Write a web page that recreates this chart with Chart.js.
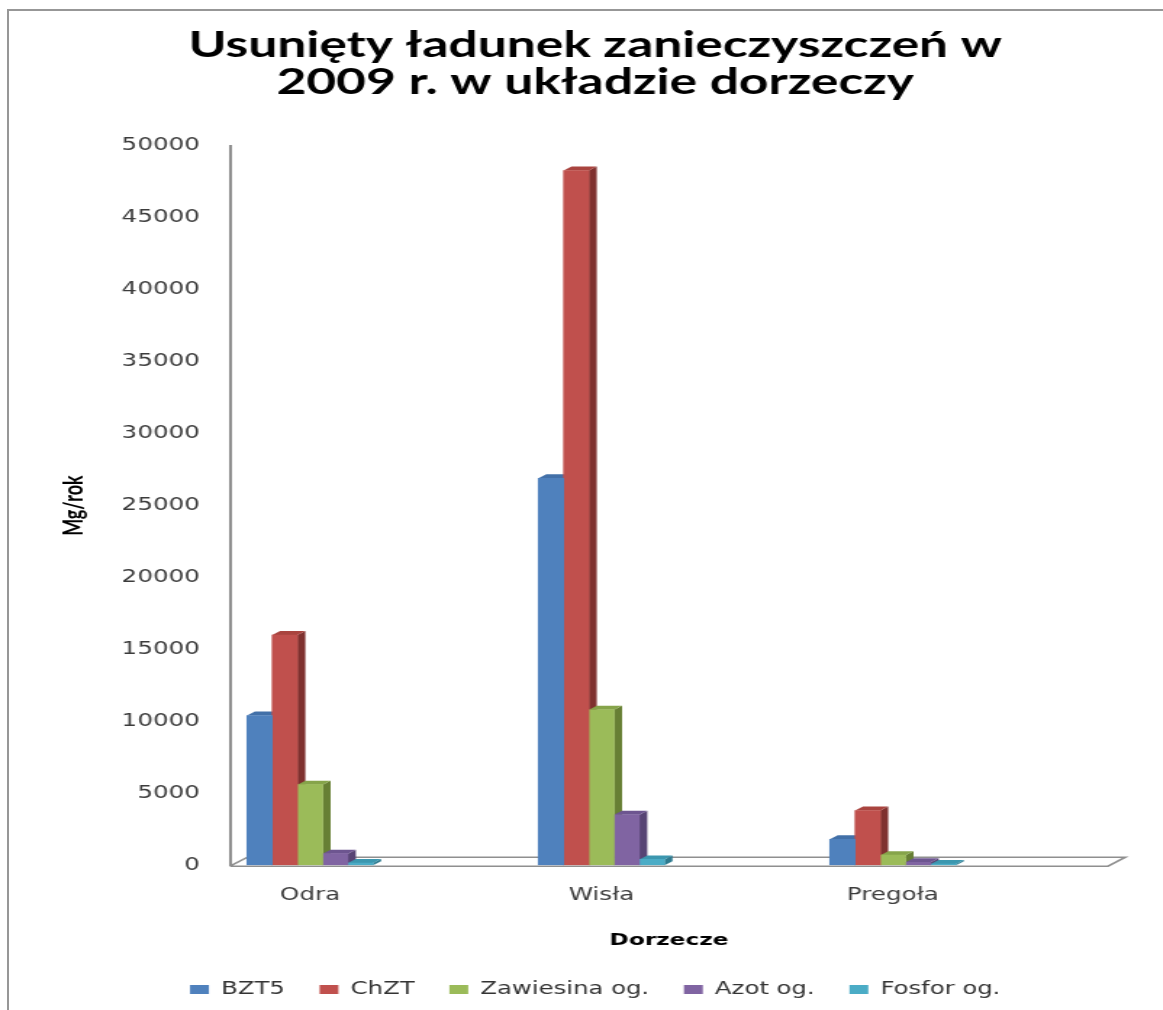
<!DOCTYPE html>
<html><head><meta charset="utf-8">
<script src="https://cdn.jsdelivr.net/npm/chart.js@4.4.1/dist/chart.umd.min.js"></script>
<style>
html,body{margin:0;padding:0;background:#fff;overflow:hidden;width:1163px;height:1010px}
#frame{position:absolute;left:7px;top:9px;width:1200px;height:1100px;border-left:2px solid #979797;border-top:2px solid #979797;}
#wrap{position:absolute;left:0;top:0;width:802px;height:1010px;transform:scaleX(1.45);transform-origin:0 0;}
</style></head><body>
<div id="frame"></div>
<div id="wrap"><canvas id="c" width="802" height="1010"></canvas></div>
<script>
// ---- data ----
const categories = ['Odra', 'Wisła', 'Pregoła'];
const seriesNames = ['BZT5', 'ChZT', 'Zawiesina og.', 'Azot og.', 'Fosfor og.'];
const bzt5 = [10400, 26900, 1800];
const chzt = [16000, 48300, 3800];
const zawiesina = [5600, 10800, 700];
const azot = [800, 3500, 200];
const fosfor = [150, 400, 80];
const yTickValues = [0, 5000, 10000, 15000, 20000, 25000, 30000, 35000, 40000, 45000, 50000];

// ---- styles ----
const frontColors = ['#4F81BD', '#C0504D', '#9BBB59', '#8064A2', '#4BACC6'];
const topColors   = ['#4270A8', '#A9443F', '#86A44A', '#6D5590', '#3C97AF'];
const sideColors  = ['#385D8A', '#7F312F', '#677F34', '#574474', '#2E7A8F'];
const seriesValues = [bzt5, chzt, zawiesina, azot, fosfor];

const datasets = seriesNames.map((name, i) => ({
  label: name,
  data: seriesValues[i].map((v, k) => ({ x: k, y: v })),
  backgroundColor: frontColors[i],
  borderWidth: 0,
  barThickness: 17.4,
  topColor: topColors[i],
  sideColor: sideColors[i]
}));

const DX = 5.5, DY = 4;
const floorAnd3d = {
  id: 'floorAnd3d',
  beforeDatasetsDraw(chart) {
    const ctx = chart.ctx;
    const a = chart.chartArea;
    const fx = 12, fy = 9;
    ctx.save();
    ctx.strokeStyle = '#8f8f8f';
    ctx.lineWidth = 1.6;
    ctx.beginPath();
    ctx.moveTo(a.left, a.bottom + 1);
    ctx.lineTo(a.right, a.bottom + 1);
    ctx.lineTo(a.right + fx, a.bottom + 1 - fy);
    ctx.lineTo(a.left + fx, a.bottom + 1 - fy);
    ctx.lineTo(a.left, a.bottom + 1);
    ctx.stroke();
    // 3D side and top faces
    chart.data.datasets.forEach((ds, i) => {
      const meta = chart.getDatasetMeta(i);
      meta.data.forEach(el => {
        const p = el.getProps(['x', 'y', 'base', 'width'], true);
        const l = p.x - p.width / 2, r = p.x + p.width / 2;
        ctx.fillStyle = ds.sideColor;
        ctx.beginPath();
        ctx.moveTo(r, p.y);
        ctx.lineTo(r + DX, p.y - DY);
        ctx.lineTo(r + DX, p.base - DY);
        ctx.lineTo(r, p.base);
        ctx.closePath();
        ctx.fill();
        ctx.fillStyle = ds.topColor;
        ctx.beginPath();
        ctx.moveTo(l, p.y);
        ctx.lineTo(l + DX, p.y - DY);
        ctx.lineTo(r + DX, p.y - DY);
        ctx.lineTo(r, p.y);
        ctx.closePath();
        ctx.fill();
      });
    });
    ctx.restore();
  }
};

new Chart(document.getElementById('c'), {
  type: 'bar',
  data: { datasets },
  plugins: [floorAnd3d],
  options: {
    responsive: false,
    animation: false,
    devicePixelRatio: 1,
    layout: { padding: { left: 19, right: 0, top: 0, bottom: 2 } },
    plugins: {
      title: {
        display: true,
        text: ['Usunięty ładunek zanieczyszczeń w', '2009 r. w układzie dorzeczy'],
        color: '#000',
        font: { family: 'Lato', weight: 'bold', size: 35.5, lineHeight: 1.04 },
        padding: { top: 27, bottom: 45.2 }
      },
      legend: {
        position: 'bottom',
        labels: {
          boxWidth: 13, boxHeight: 9, padding: 24,
          color: '#333',
          font: { family: 'DejaVu Sans', size: 16.8 }
        }
      },
      tooltip: { enabled: false }
    },
    scales: {
      x: {
        type: 'linear',
        offset: false,
        min: -0.2746, max: 2.738,
        grid: { display: false, drawTicks: false, offset: false },
        border: { display: false },
        afterBuildTicks(s) { s.ticks = categories.map((c, k) => ({ value: k })); },
        ticks: {
          autoSkip: false, maxRotation: 0, padding: 20,
          color: '#3c3c3c',
          font: { family: 'DejaVu Sans', size: 17 },
          callback: v => categories[v] !== undefined ? categories[v] : ''
        },
        title: {
          display: true, text: 'Dorzecze', color: '#000',
          font: { family: 'DejaVu Sans', weight: 'bold', size: 16 },
          padding: { top: 0, bottom: 6.4 }
        },
        afterFit(s) { s.height = 92; }
      },
      y: {
        min: 0, max: 50000,
        grid: { display: false, drawTicks: false },
        border: { display: true, color: '#8f8f8f', width: 2 },
        afterBuildTicks(s) { s.ticks = yTickValues.map(v => ({ value: v })); },
        ticks: {
          padding: 20.7,
          color: '#3c3c3c',
          font: { family: 'DejaVu Sans', size: 17 },
          callback: v => String(v)
        },
        title: {
          display: true, text: 'Mg/rok', color: '#000',
          font: { family: 'Lato', weight: 'bold', size: 18 },
          padding: { top: 21.2, bottom: 0 }
        },
        afterFit(s) { s.width = 139.6; }
      },
      yR: {
        type: 'linear', position: 'right', display: true,
        grid: { display: false, drawTicks: false },
        border: { display: false },
        ticks: { display: false },
        afterFit(s) { s.width = 37.9; }
      }
    }
  }
});
</script>
</body></html>
